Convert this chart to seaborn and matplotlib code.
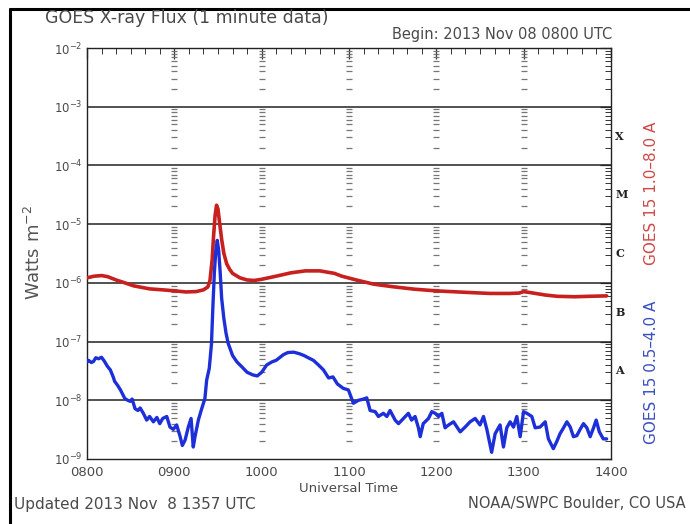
import numpy as np
import pandas as pd
import matplotlib
matplotlib.use("Agg")
import matplotlib.pyplot as plt
from matplotlib.lines import Line2D
import matplotlib.ticker as mticker
import matplotlib.transforms as mtrans
import seaborn as sns

# ---------------- data ----------------
hour_labels = ["0800", "0900", "1000", "1100", "1200", "1300", "1400"]
class_letters = ["A", "B", "C", "M", "X"]

red_minutes = [0, 5, 10, 14, 20, 25, 32, 43, 55, 68, 75, 80, 83, 84.5, 86, 87,
               88, 89, 90, 91, 92.5, 94, 96, 98, 100, 105, 110, 115, 120, 130,
               140, 150, 160, 170, 175, 185, 197, 210, 225, 240, 260, 277, 290,
               297, 300, 305, 315, 323, 335, 345, 357]
red_flux = [1.22e-6, 1.3e-6, 1.33e-6, 1.28e-6, 1.12e-6, 1.02e-6, 8.9e-7, 7.9e-7,
            7.5e-7, 7.0e-7, 7.1e-7, 7.6e-7, 8.5e-7, 1.1e-6, 2.5e-6, 6.5e-6,
            1.4e-5, 2.1e-5, 1.8e-5, 1.1e-5, 5.5e-6, 3.2e-6, 2.1e-6, 1.7e-6,
            1.45e-6, 1.22e-6, 1.12e-6, 1.1e-6, 1.15e-6, 1.3e-6, 1.48e-6,
            1.6e-6, 1.6e-6, 1.45e-6, 1.3e-6, 1.12e-6, 9.5e-7, 8.6e-7, 7.8e-7,
            7.3e-7, 6.9e-7, 6.6e-7, 6.6e-7, 6.7e-7, 7.1e-7, 6.8e-7, 6.2e-7,
            5.9e-7, 5.8e-7, 5.9e-7, 6.0e-7]

blue_minutes = [0, 1, 3, 4.5, 6, 8, 10, 12, 14, 16, 18, 19, 21, 23, 25, 26, 28,
                29.6, 31, 33, 35, 36.5, 38.7, 41, 43, 45.6, 48, 50, 52, 54.8,
                57, 59.3, 61.6, 64, 65.5, 67.4, 69.6, 71.5, 73, 74.2, 76.5,
                78.8, 81, 82.2, 84, 85.5, 86.5, 87.5, 88.5, 89.5, 90.5, 91.5,
                92.5, 94, 95.5, 97, 100, 103, 106, 110, 114, 117, 120, 123.5,
                127, 130, 135, 138, 142, 146, 149, 152, 155.5, 159, 162.4, 166,
                169, 172, 176, 179.6, 183, 186.5, 190, 192.2, 194.5, 198, 200.2,
                203.6, 206, 208.2, 211.7, 214, 217.4, 220.8, 223, 225.4, 227.7,
                228.9, 231, 234.6, 236.9, 239.2, 241.5, 243.8, 246, 248.4,
                251.8, 255.3, 256.4, 259.8, 263.2, 266.7, 270, 272.4, 274.7,
                278, 280.4, 283.8, 286.1, 288.4, 290.7, 293, 295.3, 297.6,
                299.9, 302.2, 305.6, 307.9, 311.3, 314.8, 317, 320.4, 322.8,
                325, 327.4, 329.7, 332, 334.2, 336.5, 338.8, 341.1, 343.4,
                345.7, 348, 349.8, 352, 354.7, 357]
blue_flux = [4.5e-8, 4.8e-8, 4.4e-8, 4.6e-8, 5.3e-8, 5.1e-8, 5.4e-8, 4.6e-8,
             3.8e-8, 3.3e-8, 2.5e-8, 2.1e-8, 1.8e-8, 1.5e-8, 1.2e-8, 1.07e-8,
             1.0e-8, 9.6e-9, 1.05e-8, 7.2e-9, 6.7e-9, 7.4e-9, 6.0e-9, 4.6e-9,
             5.3e-9, 4.3e-9, 5.1e-9, 4.0e-9, 4.9e-9, 5.3e-9, 3.5e-9, 3.2e-9,
             3.8e-9, 2.4e-9, 1.7e-9, 2.1e-9, 3.5e-9, 4.9e-9, 1.6e-9, 2.4e-9,
             4.6e-9, 7.2e-9, 1.07e-8, 2.2e-8, 3.5e-8, 9e-8, 4e-7, 1.5e-6,
             3.5e-6, 5.3e-6, 3.5e-6, 1.5e-6, 5.5e-7, 2.5e-7, 1.4e-7, 9.3e-8,
             5.8e-8, 4.5e-8, 3.8e-8, 3.0e-8, 2.7e-8, 2.6e-8, 3.0e-8, 4.0e-8,
             4.5e-8, 4.8e-8, 6.0e-8, 6.5e-8, 6.6e-8, 6.2e-8, 5.8e-8, 5.3e-8,
             4.8e-8, 4.0e-8, 3.3e-8, 2.4e-8, 2.5e-8, 1.9e-8, 1.6e-8, 1.5e-8,
             8.9e-9, 1.0e-8, 1.05e-8, 1.1e-8, 6.7e-9, 6.4e-9, 5.3e-9, 6.0e-9,
             5.3e-9, 6.7e-9, 4.6e-9, 4.0e-9, 4.9e-9, 6.0e-9, 4.6e-9, 5.3e-9,
             3.4e-9, 2.4e-9, 4.0e-9, 4.9e-9, 6.4e-9, 6.0e-9, 5.3e-9, 6.0e-9,
             3.4e-9, 3.8e-9, 4.3e-9, 3.2e-9, 2.9e-9, 3.5e-9, 4.3e-9, 4.9e-9,
             3.8e-9, 5.3e-9, 3.2e-9, 1.3e-9, 2.7e-9, 3.8e-9, 1.6e-9, 3.4e-9,
             4.3e-9, 3.5e-9, 5.3e-9, 2.4e-9, 6.4e-9, 6.0e-9, 5.3e-9, 3.4e-9,
             3.5e-9, 4.3e-9, 2.2e-9, 1.5e-9, 2.0e-9, 2.7e-9, 3.4e-9, 4.3e-9,
             3.5e-9, 2.4e-9, 2.5e-9, 3.2e-9, 4.0e-9, 3.4e-9, 2.4e-9, 3.4e-9,
             4.6e-9, 2.9e-9, 2.2e-9, 2.2e-9]

# ---------------- style ----------------
sns.set_theme(style="white")
plt.rcParams["font.family"] = ["DejaVu Sans"]
TXT = "#4a4a4a"
RED = "#c8201e"
BLUE = "#1d2fd8"

fig = plt.figure(figsize=(6.9, 5.24), dpi=100)
ax = fig.add_axes([87 / 690, 1 - 459 / 524, (611 - 87) / 690, (459 - 48) / 524])

red_df = pd.DataFrame({"minute": red_minutes, "flux": red_flux})
blue_df = pd.DataFrame({"minute": blue_minutes, "flux": blue_flux})

ax.set_yscale("log")
ax.set_xlim(0, 360)
ax.set_ylim(1e-9, 1e-2)

# horizontal decade lines
for e in range(-8, -2):
    ax.axhline(10.0 ** e, color="#222222", lw=1.1, zorder=1)

# tick-dash columns on each interior hour
minor_vals = [k * 10.0 ** e for e in range(-9, -2) for k in range(2, 10)]
for h in range(1, 6):
    ax.plot([h * 60] * len(minor_vals), minor_vals, ls="none", marker="_",
            ms=4, mew=0.9, color="#777777", zorder=1)

sns.lineplot(data=red_df, x="minute", y="flux", ax=ax, color=RED, lw=2.6,
             sort=False, estimator=None, zorder=3)
sns.lineplot(data=blue_df, x="minute", y="flux", ax=ax, color=BLUE, lw=2.4,
             sort=False, estimator=None, zorder=4)

ax.set_xlabel("Universal Time", fontsize=9.5, color=TXT, labelpad=2)
ax.set_ylabel("")
ax.set_xticks([i * 60 for i in range(len(hour_labels))])
ax.set_xticklabels(hour_labels)
ax.xaxis.set_minor_locator(mticker.MultipleLocator(10))
ax.yaxis.set_major_locator(mticker.LogLocator(base=10, numticks=20))
ax.yaxis.set_minor_locator(mticker.LogLocator(base=10, subs=np.arange(2, 10), numticks=20))
ax.yaxis.set_minor_formatter(mticker.NullFormatter())

ax.tick_params(which="both", direction="in", top=True, right=True,
               colors="#333333", labelcolor=TXT, labelsize=9.5)
ax.tick_params(which="major", length=8, width=0.9)
ax.tick_params(which="minor", length=4, width=0.7)
ax.tick_params(axis="x", pad=5)
ax.tick_params(axis="y", pad=3, labelsize=8.5)
for s in ax.spines.values():
    s.set_color("#222222")
    s.set_linewidth(1.0)

# class letters on the right
tr = mtrans.blended_transform_factory(ax.transAxes, ax.transData)
for i, letter in enumerate(class_letters):
    ax.text(1.008, 10.0 ** (-7.5 + i), letter, transform=tr, ha="left",
            va="center", fontsize=8, fontweight="bold",
            family="DejaVu Serif", color="#222222")

# figure texts
fig.text(45 / 690, 1 - 18 / 524, "GOES X-ray Flux (1 minute data)",
         fontsize=12.5, color=TXT, ha="left", va="center")
fig.text(612 / 690, 1 - 34 / 524, "Begin: 2013 Nov 08 0800 UTC",
         fontsize=10.5, color=TXT, ha="right", va="center")
fig.text(34 / 690, 1 - 252 / 524, "Watts m$^{-2}$", rotation=90,
         fontsize=13, color="#555555", ha="center", va="center")
fig.text(651 / 690, 1 - 193 / 524, "GOES 15 1.0\u20138.0 A", rotation=90,
         fontsize=11, color="#d04848", ha="center", va="center")
fig.text(651 / 690, 1 - 372 / 524, "GOES 15 0.5\u20134.0 A", rotation=90,
         fontsize=11, color="#3a4fc0", ha="center", va="center")
fig.text(14 / 690, 1 - 504 / 524, "Updated 2013 Nov  8 1357 UTC",
         fontsize=11, color=TXT, ha="left", va="center")
fig.text(468 / 690, 1 - 504 / 524, "NOAA/SWPC Boulder, CO USA",
         fontsize=10.5, color=TXT, ha="left", va="center")

# outer frame (left and top edges)
fig.add_artist(Line2D([10 / 690, 10 / 690], [0, 1 - 9 / 524],
                      transform=fig.transFigure, color="black", lw=2.2))
fig.add_artist(Line2D([10 / 690, 1], [1 - 9 / 524, 1 - 9 / 524],
                      transform=fig.transFigure, color="black", lw=2.2))

fig.savefig("out.png", dpi=100)
